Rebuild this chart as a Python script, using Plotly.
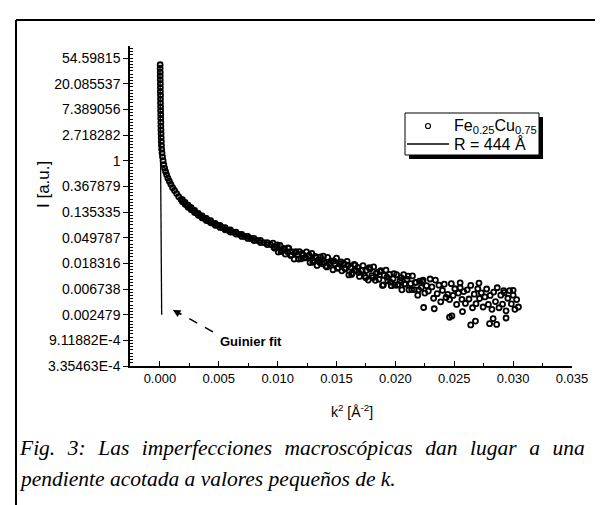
import plotly.graph_objects as go

# ---------------- data ----------------
# steep / bending part of the scattering curve: k^2 [1/A^2], ln(I)
k2_curve = [0.00002, 0.00002, 0.00003, 0.00003, 0.00003, 0.00004, 0.00004, 0.00004, 0.00005, 0.00005,
            0.00005, 0.00006, 0.00006, 0.00007, 0.00007, 0.00008, 0.00008, 0.00009, 0.00010, 0.00011,
            0.00012, 0.00013, 0.00015, 0.00018, 0.00022,
            0.00027, 0.00033, 0.00040, 0.00048, 0.00057, 0.00068, 0.00080, 0.00093, 0.00108, 0.00124,
            0.00142, 0.00160, 0.00180, 0.00202, 0.00226, 0.00252, 0.00280, 0.00310, 0.00342, 0.00376,
            0.00412, 0.00450, 0.00490, 0.00532, 0.00576, 0.00622, 0.00670, 0.00720, 0.00772, 0.00826,
            0.00882, 0.00940]
lnI_curve = [3.74, 3.60, 3.45, 3.30, 3.15, 3.00, 2.85, 2.70, 2.55, 2.40,
             2.25, 2.10, 1.95, 1.80, 1.65, 1.50, 1.35, 1.20, 1.05, 0.90,
             0.75, 0.60, 0.45, 0.30, 0.15,
             0.00, -0.15, -0.29, -0.42, -0.55, -0.68, -0.80, -0.92, -1.05, -1.16,
             -1.28, -1.40, -1.51, -1.61, -1.72, -1.82, -1.93, -2.04, -2.14, -2.24,
             -2.34, -2.43, -2.52, -2.61, -2.70, -2.78, -2.87, -2.95, -3.03, -3.11,
             -3.19, -3.27]

# extra points filling the thick part of the curve (upper and lower edge)
k2_edge = [0.00191, 0.00214, 0.00239, 0.00266, 0.00295, 0.00326, 0.00359, 0.00394, 0.00431, 0.00470,
           0.00511, 0.00554, 0.00599, 0.00646, 0.00695, 0.00746, 0.00799, 0.00854, 0.00911]
lnI_edge_hi = [-1.52, -1.62, -1.73, -1.83, -1.94, -2.05, -2.15, -2.25, -2.34, -2.44,
               -2.52, -2.61, -2.70, -2.78, -2.87, -2.95, -3.03, -3.11, -3.19]
lnI_edge_lo = [-1.60, -1.70, -1.81, -1.91, -2.02, -2.13, -2.23, -2.33, -2.42, -2.52,
               -2.60, -2.69, -2.78, -2.86, -2.95, -3.03, -3.11, -3.19, -3.27]

# scattered band at larger k^2
k2_band = [0.00960, 0.00975, 0.00990, 0.01005, 0.01020, 0.01035, 0.01050, 0.01065, 0.01080, 0.01095,
           0.01110, 0.01125, 0.01140, 0.01155, 0.01170, 0.01185, 0.01200, 0.01215, 0.01230, 0.01245,
           0.01260, 0.01275, 0.01290, 0.01305, 0.01320, 0.01335, 0.01350, 0.01365, 0.01380, 0.01395,
           0.01410, 0.01425, 0.01440, 0.01455, 0.01470, 0.01485, 0.01500, 0.01515, 0.01530, 0.01545,
           0.01560, 0.01575, 0.01590, 0.01605, 0.01620, 0.01635, 0.01650, 0.01665, 0.01680, 0.01695,
           0.01710, 0.01725, 0.01740, 0.01755, 0.01770, 0.01785, 0.01800, 0.01815, 0.01830, 0.01845,
           0.01860, 0.01875, 0.01890, 0.01905, 0.01920, 0.01935, 0.01950, 0.01965, 0.01980, 0.01995,
           0.02010, 0.02025, 0.02040, 0.02055, 0.02070, 0.02085, 0.02100, 0.02115, 0.02130, 0.02145,
           0.02160, 0.02175, 0.02190, 0.02205, 0.02220, 0.02235, 0.02250, 0.02265, 0.02280, 0.02295,
           0.02310, 0.02325, 0.02340, 0.02355, 0.02370, 0.02385, 0.02400, 0.02415, 0.02430, 0.02445,
           0.02460, 0.02475, 0.02490, 0.02505, 0.02520, 0.02535, 0.02550, 0.02565, 0.02580, 0.02595,
           0.02610, 0.02625, 0.02640, 0.02655, 0.02670, 0.02685, 0.02700, 0.02715, 0.02730, 0.02745,
           0.02760, 0.02775, 0.02790, 0.02805, 0.02820, 0.02835, 0.02850, 0.02865, 0.02880, 0.02895,
           0.02910, 0.02925, 0.02940, 0.02955, 0.02970, 0.02985, 0.03000, 0.03015, 0.03030, 0.03045]
lnI_band = [-3.21, -3.41, -3.35, -3.56, -3.30, -3.49, -3.42, -3.64, -3.54, -3.42,
            -3.69, -3.55, -3.83, -3.54, -3.68, -3.54, -3.82, -3.68, -3.79, -3.55,
            -3.73, -3.97, -3.61, -3.89, -3.73, -4.08, -3.86, -3.75, -4.02, -3.97,
            -4.10, -3.77, -4.03, -3.90, -4.25, -4.02, -3.80, -4.17, -4.02, -4.29,
            -3.99, -4.22, -3.92, -4.45, -4.15, -4.37, -4.04, -4.28, -4.16, -4.51,
            -4.28, -4.09, -4.50, -4.27, -4.65, -4.22, -4.48, -4.14, -4.66, -4.35,
            -4.62, -4.28, -4.86, -4.47, -4.26, -4.68, -4.43, -4.87, -4.60, -4.85,
            -4.44, -4.82, -4.66, -5.03, -4.44, -4.81, -4.62, -5.03, -4.79, -4.49,
            -5.02, -4.74, -5.24, -4.69, -4.94, -4.65, -5.16, -4.87, -5.08, -4.61,
            -4.92, -5.36, -4.65, -5.18, -4.85, -5.50, -5.05, -4.81, -5.33, -5.21,
            -5.41, -4.79, -5.25, -4.99, -5.60, -5.16, -4.76, -5.40, -5.10, -5.56,
            -5.03, -5.39, -4.86, -5.73, -5.20, -5.57, -4.99, -5.37, -5.15, -5.70,
            -5.31, -5.00, -5.60, -5.25, -5.79, -5.12, -5.49, -4.95, -5.73, -5.24,
            -5.59, -5.14, -5.85, -5.36, -5.06, -5.58, -5.24, -5.79, -5.41, -5.70]

# further points in the dense middle part of the band
k2_band2 = [0.00968, 0.00998, 0.01028, 0.01058, 0.01088, 0.01118, 0.01148, 0.01178, 0.01208, 0.01238,
            0.01268, 0.01298, 0.01328, 0.01358, 0.01388, 0.01418, 0.01448, 0.01478, 0.01508, 0.01538,
            0.01568, 0.01598, 0.01628, 0.01658, 0.01688, 0.01718, 0.01748, 0.01778, 0.01808, 0.01838,
            0.01868, 0.01898, 0.01928, 0.01958, 0.01988, 0.02018, 0.02048, 0.02078, 0.02108, 0.02138,
            0.02168, 0.02198, 0.02228]
lnI_band2 = [-3.37, -3.28, -3.54, -3.45, -3.40, -3.67, -3.58, -3.83, -3.61, -3.77,
             -3.68, -3.96, -3.79, -3.97, -3.72, -4.14, -3.98, -3.91, -4.19, -3.94,
             -4.19, -4.07, -4.43, -4.07, -4.36, -4.27, -4.56, -4.17, -4.56, -4.39,
             -4.32, -4.84, -4.54, -4.73, -4.40, -4.85, -4.56, -4.80, -4.50, -5.02,
             -4.75, -5.03, -4.70]

# isolated points away from the band
k2_out = [0.0224, 0.0233, 0.0246, 0.0248, 0.0257, 0.0264, 0.0268, 0.0280, 0.0283, 0.0286,
          0.0294, 0.0271, 0.0292, 0.0255, 0.0300]
lnI_out = [-5.72, -5.77, -6.10, -6.05, -5.88, -6.40, -6.25, -6.35, -6.15, -6.38,
           -6.13, -4.77, -5.06, -4.95, -5.05]

# Guinier fit, R = 444 A
k2_fit = [0.0, 0.00015]
lnI_fit = [3.74, -6.0]

# y axis is ln(I); ticks labelled with e^n
y_tickvals = [-8, -7, -6, -5, -4, -3, -2, -1, 0, 1, 2, 3, 4]
y_ticktext = ["3.35463E-4", "9.11882E-4", "0.002479", "0.006738", "0.018316", "0.049787",
              "0.135335", "0.367879", "1", "2.718282", "7.389056", "20.085537", "54.59815"]
x_tickvals = [0.000, 0.005, 0.010, 0.015, 0.020, 0.025, 0.030, 0.035]
x_ticktext = ["0.000", "0.005", "0.010", "0.015", "0.020", "0.025", "0.030", "0.035"]

series_name = "Fe<sub>0.25</sub>Cu<sub>0.75</sub>"
fit_name = "R = 444 Å"
caption_1_words = ["Fig.", "3:", "Las", "imperfecciones", "macroscópicas", "dan", "lugar", "a", "una"]
caption_2 = "pendiente acotada a valores pequeños de k."

# ---------------- layout geometry ----------------
W, H = 603, 505
L, R, T, B = 122, 39, 38, 147
PW, PH = W - L - R, H - T - B


def px(x):
    return (x - L) / PW


def py(y):
    return (H - B - y) / PH


SANS = "Liberation Sans, Arial, sans-serif"
SERIF = "Liberation Serif, Times New Roman, serif"

marker = dict(symbol="circle-open", size=5, color="black", line=dict(width=1.8, color="black"))

all_k2 = k2_curve + k2_edge + k2_edge + k2_band + k2_band2 + k2_out
all_lnI = lnI_curve + lnI_edge_hi + lnI_edge_lo + lnI_band + lnI_band2 + lnI_out

fig = go.Figure()
fig.add_trace(go.Scatter(x=all_k2, y=all_lnI, mode="markers", marker=marker,
                         name=series_name, showlegend=False))
fig.add_trace(go.Scatter(x=k2_fit, y=lnI_fit, mode="lines",
                         line=dict(color="black", width=1.3), name=fit_name, showlegend=False))

shapes = []
# outer figure frame (left + top)
shapes.append(dict(type="line", xref="paper", yref="paper", x0=px(8), x1=px(8), y0=py(12), y1=py(505),
                   line=dict(color="black", width=2)))
shapes.append(dict(type="line", xref="paper", yref="paper", x0=px(8), x1=px(592), y0=py(12), y1=py(12),
                   line=dict(color="black", width=2)))
# legend box with shadow
shapes.append(dict(type="rect", xref="paper", yref="paper", x0=px(401), x1=px(535), y0=py(151), y1=py(109),
                   fillcolor="black", line=dict(width=0)))
shapes.append(dict(type="rect", xref="paper", yref="paper", x0=px(397), x1=px(531), y0=py(147), y1=py(105),
                   fillcolor="white", line=dict(color="black", width=1)))
shapes.append(dict(type="circle", xref="paper", yref="paper", x0=px(417.5), x1=px(422.5), y0=py(120.5), y1=py(115.5),
                   line=dict(color="black", width=1.2)))
shapes.append(dict(type="line", xref="paper", yref="paper", x0=px(399), x1=px(441), y0=py(136), y1=py(136),
                   line=dict(color="black", width=1.3)))
# dashed pointer to the Guinier fit
shapes.append(dict(type="line", xref="x", yref="y", x0=0.0045, y0=-6.67, x1=0.0017, y1=-5.95,
                   line=dict(color="black", width=1.5, dash="dash")))

gap = " \u2005\u200a"
annotations = [
    dict(xref="paper", yref="paper", x=px(444), y=py(118), text=series_name, showarrow=False,
         xanchor="left", yanchor="middle", font=dict(family=SANS, size=16, color="black")),
    dict(xref="paper", yref="paper", x=px(444), y=py(136), text=fit_name, showarrow=False,
         xanchor="left", yanchor="middle", font=dict(family=SANS, size=16, color="black")),
    dict(xref="x", yref="y", x=0.0011, y=-5.82, ax=0.0019, ay=-6.02, axref="x", ayref="y",
         text="", showarrow=True, arrowhead=2, arrowsize=1, arrowwidth=1.5, arrowcolor="black"),
    dict(xref="paper", yref="paper", x=px(243), y=py(333), text="<b>Guinier fit</b>", showarrow=False,
         xanchor="center", yanchor="middle", font=dict(family=SANS, size=13, color="black")),
    dict(xref="paper", yref="paper", x=px(35), y=py(177), text="I [a.u.]", showarrow=False, textangle=-90,
         xanchor="center", yanchor="middle", font=dict(family=SANS, size=17, color="black")),
    dict(xref="paper", yref="paper", x=px(344), y=py(403), text="k<sup>2</sup> [Å<sup>-2</sup>]", showarrow=False,
         xanchor="center", yanchor="middle", font=dict(family=SANS, size=14, color="black")),
    dict(xref="paper", yref="paper", x=px(9), y=py(440), text="<i>" + gap.join(caption_1_words) + "</i>",
         showarrow=False, xanchor="left", yanchor="middle", font=dict(family=SERIF, size=21.5, color="black")),
    dict(xref="paper", yref="paper", x=px(9), y=py(471), text="<i>" + caption_2 + "</i>", showarrow=False,
         xanchor="left", yanchor="middle", font=dict(family=SERIF, size=21.5, color="black")),
]

fig.update_layout(
    width=W, height=H, autosize=False,
    margin=dict(l=L, r=R, t=T, b=B, pad=0),
    paper_bgcolor="white", plot_bgcolor="white",
    showlegend=False,
    shapes=shapes, annotations=annotations,
    xaxis=dict(range=[-0.00254, 0.035], showgrid=False, zeroline=False,
               showline=True, linecolor="black", linewidth=1.5,
               tickmode="array", tickvals=x_tickvals, ticktext=x_ticktext,
               ticks="inside", ticklen=5, tickwidth=1.2, tickcolor="black",
               minor=dict(dtick=0.0025, tick0=0, ticks="inside", ticklen=3, tickwidth=1, tickcolor="black"),
               tickfont=dict(family=SANS, size=13, color="black")),
    yaxis=dict(range=[-8, 4.47], showgrid=False, zeroline=False,
               showline=True, linecolor="black", linewidth=1.5,
               tickmode="array", tickvals=y_tickvals, ticktext=y_ticktext,
               ticks="outside", ticklen=5, tickwidth=1.2, tickcolor="black",
               minor=dict(dtick=0.125, tick0=0, ticks="inside", ticklen=3, tickwidth=0.8, tickcolor="black"),
               tickfont=dict(family=SANS, size=14, color="black")),
)

fig.write_html("out.html")
